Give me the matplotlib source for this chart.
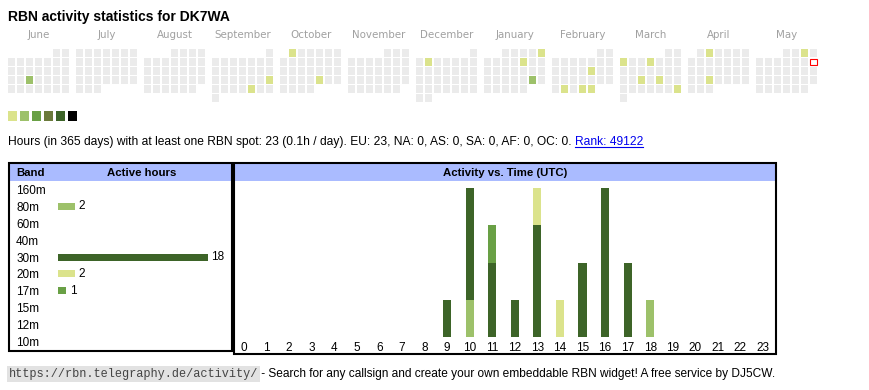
import datetime as dt

import matplotlib
matplotlib.use("Agg")
import matplotlib.pyplot as plt
from matplotlib.patches import Rectangle

W, H = 870, 390

# calendar data: active days and their level (1 = lightest)
months = [(2024, 6), (2024, 7), (2024, 8), (2024, 9), (2024, 10), (2024, 11),
          (2024, 12), (2025, 1), (2025, 2), (2025, 3), (2025, 4), (2025, 5)]
active_days = ["2024-06-19", "2024-09-22", "2024-09-27", "2024-10-01", "2024-10-25",
               "2024-12-03", "2025-01-05", "2025-01-10", "2025-01-25", "2025-02-14",
               "2025-02-25", "2025-02-27", "2025-02-28", "2025-03-03", "2025-03-06",
               "2025-03-19", "2025-03-21", "2025-03-30", "2025-04-02", "2025-04-23",
               "2025-05-03"]
active_levels = [2, 1, 1, 1, 1, 1, 1, 1, 2, 1, 1, 1, 1, 1, 1, 1, 1, 1, 1, 1, 1]
today = "2025-05-11"
level_colors = ["#dbe38c", "#9dc16a", "#69a045", "#6b7a3b", "#3d6428", "#000000"]

# band table
bands = ["160m", "80m", "60m", "40m", "30m", "20m", "17m", "15m", "12m", "10m"]
band_hours = [0, 2, 0, 0, 18, 2, 1, 0, 0, 0]
band_colors = ["#dbe38c", "#9dc16a", "#6b7a3b", "#000000", "#3d6428",
               "#dbe38c", "#69a045", "#9dc16a", "#6b7a3b", "#000000"]

# activity vs time (UTC), per band
hours = list(range(24))
hourly = {
    "80m": [0, 0, 0, 0, 0, 0, 0, 0, 0, 0, 1, 0, 0, 0, 0, 0, 0, 0, 1, 0, 0, 0, 0, 0],
    "30m": [0, 0, 0, 0, 0, 0, 0, 0, 0, 1, 3, 2, 1, 3, 0, 2, 4, 2, 0, 0, 0, 0, 0, 0],
    "20m": [0, 0, 0, 0, 0, 0, 0, 0, 0, 0, 0, 0, 0, 1, 1, 0, 0, 0, 0, 0, 0, 0, 0, 0],
    "17m": [0, 0, 0, 0, 0, 0, 0, 0, 0, 0, 0, 1, 0, 0, 0, 0, 0, 0, 0, 0, 0, 0, 0, 0],
}

info_text = ("Hours (in 365 days) with at least one RBN spot: 23 (0.1h / day). "
             "EU: 23, NA: 0, AS: 0, SA: 0, AF: 0, OC: 0. ")
rank_text = "Rank: 49122"

SANS = "Liberation Sans"
HEADER_BLUE = "#aabbff"

fig = plt.figure(figsize=(W / 100, H / 100), dpi=100)
bg = fig.add_axes([0, 0, 1, 1])
bg.set_xlim(0, W)
bg.set_ylim(H, 0)
bg.axis("off")


def px_axes(x0, y0, x1, y1):
    return fig.add_axes([x0 / W, 1 - y1 / H, (x1 - x0) / W, (y1 - y0) / H])


bg.text(8, 17, "RBN activity statistics for DK7WA", fontsize=10, fontweight="bold",
        family=SANS, va="center", ha="left")

# calendar heatmap
level_of = dict(zip(active_days, active_levels))
for k, (yr, mo) in enumerate(months):
    x0 = 8 + 68 * k
    first = dt.date(yr, mo, 1)
    name = first.strftime("%B")
    bg.text(x0 + 31, 35, name, fontsize=7.4, color="#a0a0a0", ha="center", va="center",
            family="DejaVu Sans")
    d = first
    while d.month == mo:
        row = (d.day - 1 + first.weekday()) // 7
        col = d.weekday()
        key = d.isoformat()
        if key == today:
            bg.add_patch(Rectangle((x0 + 9 * col + 0.5, 49 + 9 * row + 0.5), 6.5, 6.5,
                                   facecolor="white", edgecolor="red", linewidth=0.8))
        else:
            lvl = level_of.get(key, 0)
            c = level_colors[lvl - 1] if lvl else "#ebebeb"
            bg.add_patch(Rectangle((x0 + 9 * col, 49 + 9 * row), 7.5, 7.5,
                                   facecolor=c, edgecolor="none"))
        d += dt.timedelta(days=1)

for i, c in enumerate(level_colors):
    bg.add_patch(Rectangle((8 + 12 * i, 111), 9.5, 9.5, facecolor=c, edgecolor="none"))

# info line
t_info = bg.text(8, 142, info_text, fontsize=8.62, family=SANS, va="center", ha="left")
t_rank = bg.annotate(rank_text, xy=(1, 0), xycoords=t_info, va="bottom", ha="left",
                     fontsize=8.62, family=SANS, color="#0000ee")

# table boxes
bg.add_patch(Rectangle((10, 164), 221, 17, facecolor=HEADER_BLUE, edgecolor="none"))
bg.add_patch(Rectangle((235, 164), 540, 17, facecolor=HEADER_BLUE, edgecolor="none"))
bg.add_patch(Rectangle((9, 163), 223, 188, facecolor="none", edgecolor="black", linewidth=1.5))
bg.add_patch(Rectangle((234, 163), 542, 191, facecolor="none", edgecolor="black", linewidth=1.5))
bg.text(16, 173, "Band", fontsize=8.2, fontweight="bold", family=SANS, va="center")
bg.text(142, 173, "Active hours", fontsize=8.2, fontweight="bold", family=SANS,
        va="center", ha="center")
bg.text(505, 173, "Activity vs. Time (UTC)", fontsize=8.2, fontweight="bold", family=SANS,
        va="center", ha="center")

# band bars
ax1 = px_axes(58, 181, 208, 350)
ypos = list(range(len(bands)))
bars = ax1.barh(ypos, band_hours, height=0.42, color=band_colors)
ax1.bar_label(bars, labels=[str(v) if v else "" for v in band_hours], padding=2.5,
              fontsize=8.5, family=SANS)
ax1.set_xlim(0, 18)
ax1.set_ylim(len(bands) - 0.5, -0.5)
ax1.set_yticks(ypos, bands)
ax1.set_xticks([])
ax1.tick_params(axis="y", length=0, pad=30.2, labelsize=8.5)
for lab in ax1.get_yticklabels():
    lab.set_ha("left")
    lab.set_family(SANS)
for s in ax1.spines.values():
    s.set_visible(False)
ax1.patch.set_alpha(0)

# hourly stacked bars
ax2 = px_axes(235, 188, 775, 337)
step = (763 - 244) / 23
ax2.set_xlim(-(244 - 235) / step, 23 + (775 - 763) / step)
ax2.set_ylim(0, 4)
bottom = [0] * 24
for band, vals in hourly.items():
    ax2.bar(hours, vals, bottom=bottom, width=0.36, color=band_colors[bands.index(band)])
    bottom = [b + v for b, v in zip(bottom, vals)]
ax2.set_xticks(hours, [str(h) for h in hours])
ax2.set_yticks([])
ax2.tick_params(axis="x", length=0, pad=3.5, labelsize=8.5)
for lab in ax2.get_xticklabels():
    lab.set_family(SANS)
for s in ax2.spines.values():
    s.set_visible(False)
ax2.patch.set_alpha(0)

# footer
t_url = bg.text(9, 374, "https://rbn.telegraphy.de/activity/", fontsize=8.55,
                family="Liberation Mono", color="#444444", va="center", ha="left",
                bbox=dict(facecolor="#e2e2e2", edgecolor="none", pad=1.2))
bg.annotate(" - Search for any callsign and create your own embeddable RBN widget! "
            "A free service by DJ5CW.", xy=(1, 0), xycoords=t_url, va="bottom",
            ha="left", fontsize=8.55, family=SANS)

# underline the rank link
fig.canvas.draw()
bb = t_rank.get_window_extent().transformed(bg.transData.inverted())
y_ul = max(bb.y0, bb.y1) - 1
bg.plot([bb.x0, bb.x1], [y_ul, y_ul], color="#0000ee", linewidth=0.8)

fig.savefig("out.png", dpi=100)
